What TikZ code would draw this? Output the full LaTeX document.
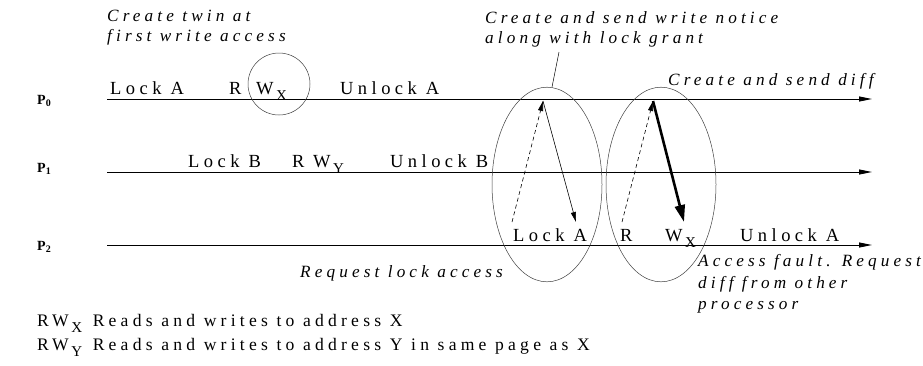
\documentclass[tikz,border=0pt]{standalone}
\usepackage{fontspec}
\setmainfont{Liberation Serif}
\newfontfamily\spaced[LetterSpace=24]{Liberation Serif}
\usetikzlibrary{arrows.meta}

% lowered upright index letter, as in W_X
\newcommand\lowidx[1]{\hspace{2.5pt}\raisebox{-6pt}{\fontsize{15}{15}\selectfont #1}}
% bold processor index
\newcommand\procidx[1]{\raisebox{-2.5pt}{\fontsize{10}{10}\selectfont\bfseries #1}}

\begin{document}
\begin{tikzpicture}[x=1pt,y=-1pt,
  lbl/.style={inner sep=0pt, anchor=base west, font=\fontsize{18.5}{20}\spaced\selectfont},
  note/.style={inner sep=0pt, anchor=base west, font=\fontsize{17.2}{20}\spaced\itshape\selectfont},
  legend/.style={inner sep=0pt, anchor=base west, font=\fontsize{17.6}{20}\spaced\selectfont},
  proc/.style={inner sep=0pt, anchor=base west, font=\fontsize{14}{16}\bfseries\selectfont},
  timeline/.style={line width=0.9pt, -{Triangle[length=13pt,width=5pt]}},
  ring/.style={draw=black!75, line width=0.5pt},
  request/.style={dashed, dash pattern=on 4pt off 3pt, line width=0.6pt, -{Triangle[length=10pt,width=5pt]}},
  grant/.style={line width=0.6pt, -{Triangle[length=10pt,width=5pt]}},
  diffmsg/.style={line width=2.6pt, -{Triangle[length=17pt,width=10pt]}},
  leader/.style={line width=0.5pt}
]
\useasboundingbox (0,0) rectangle (923,365);

% processor names
\node[proc] (p0) at (37,104) {P\procidx{0}};
\node[proc] (p1) at (37,172) {P\procidx{1}};
\node[proc] (p2) at (37,250) {P\procidx{2}};

% time lines
\coordinate (s0) at (107,99);  \coordinate (e0) at (872,99);
\coordinate (s1) at (107,172); \coordinate (e1) at (872,172);
\coordinate (s2) at (107,245); \coordinate (e2) at (872,245);
\draw[timeline] (s0) -- (e0);
\draw[timeline] (s1) -- (e1);
\draw[timeline] (s2) -- (e2);

% events on P0
\node[lbl] (lockA0) at (110,94) {Lock A};
\node[lbl] (r0) at (229,94) {R};
\node[lbl] (wx0) at (256,94) {W\lowidx{X}};
\node[lbl] (unlockA0) at (340,94) {Unlock A};

% events on P1
\node[lbl] (lockB1) at (188,167) {Lock B};
\node[lbl] (r1) at (292,167) {R};
\node[lbl] (wy1) at (313,167) {W\lowidx{Y}};
\node[lbl] (unlockB1) at (390,167) {Unlock B};

% events on P2
\node[lbl] (lockA2) at (513,241) {Lock A};
\node[lbl] (r2) at (620,241) {R};
\node[lbl] (wx2) at (665,241) {W\lowidx{X}};
\node[lbl] (unlockA2) at (740,241) {Unlock A};

% twin creation marker
\draw[ring] (279,84) circle[radius=31];

% message exchanges
\draw[ring] (547,184.5) ellipse[x radius=55, y radius=97.3];
\draw[ring] (661,184.5) ellipse[x radius=55, y radius=97.3];

\coordinate (reqA) at (512,222);  \coordinate (grantA) at (543,101);
\coordinate (grantEnd) at (576,222);
\coordinate (reqD) at (622,222);  \coordinate (diffA) at (653,101);
\coordinate (diffEnd) at (684,222);
\draw[request] (reqA) -- (grantA);
\draw[grant] (grantA) -- (grantEnd);
\draw[request] (reqD) -- (diffA);
\draw[diffmsg] (diffA) -- (diffEnd);

% annotations
\node[note] (twin1) at (107,21) {Create twin at};
\node[note] (twin2) at (107,41.5) {first write access};
\node[note] (notice1) at (485,23) {Create and send write notice};
\node[note] (notice2) at (485,43.5) {along with lock grant};
\coordinate (leadA) at (559,52);
\coordinate (leadB) at (552,87);
\draw[leader] (leadA) -- (leadB);
\node[note] (senddiff) at (668,85) {Create and send diff};
\node[note] (reqlock) at (300,277) {Request lock access};
\node[note] (fault1) at (698,266) {Access fault. Request};
\node[note] (fault2) at (698,288) {diff from other};
\node[note] (fault3) at (698,309) {processor};

% legend
\node[legend] (legX) at (37,326) {RW\lowidx{X}\hspace{2pt} Reads and writes to address X};
\node[legend] (legY) at (37,350) {RW\lowidx{Y}\hspace{2pt} Reads and writes to address Y in same page as X};
\end{tikzpicture}
\end{document}
